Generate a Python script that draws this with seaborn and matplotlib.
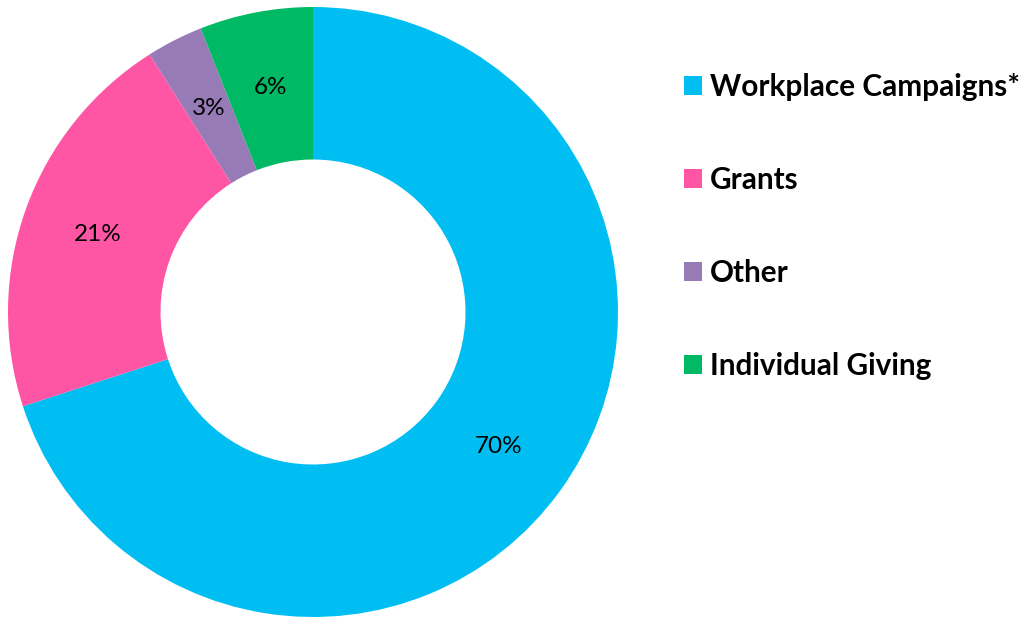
import matplotlib
matplotlib.use("Agg")
import matplotlib.pyplot as plt
import seaborn as sns

categories = ["Workplace Campaigns*", "Grants", "Other", "Individual Giving"]
values = [70, 21, 3, 6]
colors = ["#00BEF2", "#FF55A5", "#967BB6", "#00B964"]

sns.set_theme(style="white")
plt.rcParams["font.family"] = ["Lato", "DejaVu Sans"]
plt.rcParams["text.color"] = "black"
palette = sns.color_palette(colors)

W, H = 1022, 617
fig = plt.figure(figsize=(W / 100, H / 100), dpi=100)
cx, cy, r = 313, 617 - 312, 305
ax = fig.add_axes([(cx - r) / W, (cy - r) / H, 2 * r / W, 2 * r / H])

wedges, texts, autotexts = ax.pie(
    values,
    colors=palette,
    startangle=90,
    counterclock=False,
    radius=1.0,
    wedgeprops=dict(width=0.5, linewidth=0),
    autopct=lambda p: f"{p:.0f}%",
    pctdistance=0.75,
    textprops=dict(fontsize=17.5, color="black"),
)
ax.set_xlim(-1, 1)
ax.set_ylim(-1, 1)
ax.set_aspect("equal")
ax.axis("off")

leg = fig.legend(
    wedges,
    categories,
    loc="upper left",
    bbox_to_anchor=(684 / W, (617 - 73) / H),
    frameon=False,
    borderpad=0,
    borderaxespad=0,
    handlelength=0.61,
    handleheight=0.61,
    handletextpad=0.27,
    labelspacing=2.19,
    labelcolor="black",
    prop=dict(family=["Lato", "DejaVu Sans"], weight="bold", size=21.4),
)

fig.savefig("out.png", dpi=100)
